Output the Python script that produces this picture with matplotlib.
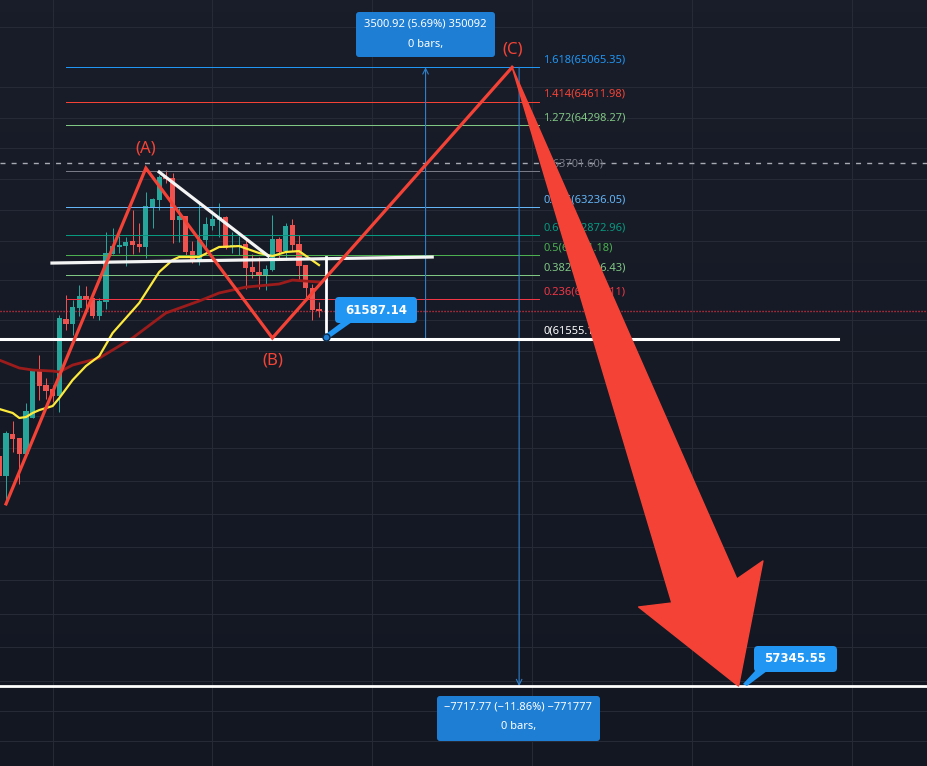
import matplotlib
matplotlib.use("Agg")
import matplotlib.pyplot as plt
import numpy as np
from matplotlib.colors import LinearSegmentedColormap
from matplotlib.patches import FancyBboxPatch, Polygon

BG = '#161a25'
GRID = '#262a36'
UP = '#26a69a'
DOWN = '#ef5350'
RED = '#f44336'
BLUE = '#2196f3'
MEASURE = '#1e7ed4'
plt.rcParams['font.family'] = ['Noto Sans', 'DejaVu Sans']

# candles: first bar index is -9
opens = [60103,59858,60373,60324,60128,60571,61167,60980,60930,60843,61806,61743,61945,
         62097,62072,61845,62022,62632,62722,62734,62798,62760,62722,63222,63326,63624,
         63610,63068,63119,62670,62530,62811,62990,63068,63106,62722,62722,62760,62466,
         62403,62364,62428,62824,62670,63004,62760,62491,62199,61933]
closes = [59858,60385,60312,60128,60658,61167,60968,60905,60843,61819,61743,61958,62097,
          62047,61845,62034,62645,62734,62747,62785,62747,62722,63248,63338,63624,63598,
          63068,63119,62658,62543,62811,63016,63080,63106,62709,62747,62747,62453,62403,
          62364,62440,62824,62658,62990,62747,62479,62199,61920,61908]
highs = [60260,60410,60534,60324,60756,61167,61354,61067,60980,61857,62110,62047,62237,
         62225,62072,62072,62914,62965,62863,62849,63196,63029,63429,63351,63649,63714,
         63675,63222,63119,62798,63312,63106,63196,63287,63119,62914,62863,62837,62632,
         62594,62491,63132,62849,63029,63080,62875,62491,62250,62022]
lows = [59800,59518,60152,59761,60091,60571,60794,60806,60769,60645,61668,61605,61845,
        61883,61819,61794,61933,62632,62645,62479,62632,62658,62580,62965,63196,63545,
        62773,62785,62619,62517,62491,62722,62939,62849,62695,62645,62619,62186,62326,
        62186,62173,62415,62555,62555,62670,62300,62085,61794,61831]

ma_fast_idx = [-9,-7,-6,-5,-4,-3,-1,0,2,4,6,8,12,15,17,18,21,24,27,30,32,34,36,39]
ma_fast = [60682,60633,60571,60583,60633,60669,60719,60818,61042,61217,61341,61630,62009,
           62403,62555,62594,62594,62722,62734,62645,62606,62658,62670,62491]
ma_slow_idx = [-9,-6,-4,-1,0,2,6,11,16,21,24,28,33,35,39]
ma_slow = [61291,61192,61167,61154,61142,61229,61316,61568,61883,62034,62136,62211,62250,62300,62275]

fib_ratios = ['1.618','1.414','1.272','1','0.786','0.618','0.5','0.382','0.236','0']
fib_prices = [65065.35,64611.98,64298.27,63701.60,63236.05,62872.96,62621.18,62366.43,62056.11,61555.15]
fib_colors = ['#2196f3','#f44336','#81c784','#787b86','#64b5f6','#089981','#4caf50','#81c784','#f23645','#ffffff']

wave_idx = [-8,13,32,68]
wave_price = [59518,63740,61568,65065.35]
wave_names = ['(A)','(B)','(C)']

grid_x = [-1,23,47,71,95,119]
grid_y = [56707,57050,57400,57800,58200,58600,59000,59400,59800,60200,60600,61000,61400,61800,
          62300,62800,63200,63600,64000,64400,64800,65600]

arrow_idx = [68,91.99,87,102,105.66,101.75]
arrow_price = [65065.35,58327,58279,57345.55,58829,58613]

fig = plt.figure(figsize=(9.27,7.66), dpi=100, facecolor=BG)

# faint vertical background gradient
bgax = fig.add_axes([0,0,1,1],zorder=-1)
bgax.axis('off')
cmap = LinearSegmentedColormap.from_list('bg',['#191d29','#131722'])
bgax.imshow(np.linspace(0,1,64).reshape(-1,1),aspect='auto',cmap=cmap)

ax = fig.add_axes([0,0,1,1], facecolor='none')
ax.set_yscale('log')
ax.set_xlim(-8.904,130.3)
ax.set_ylim(56418,65965)
ax.set_xticks(grid_x)
ax.set_yticks(grid_y)
ax.minorticks_off()
ax.tick_params(length=0,labelleft=False,labelbottom=False)
ax.grid(True,color=GRID,lw=0.72)
ax.set_axisbelow(True)
for s in ax.spines.values():
    s.set_visible(False)

# candles
for n,(o,c,h,l) in enumerate(zip(opens,closes,highs,lows)):
    i = n-9
    col = UP if c>=o else DOWN
    ax.vlines(i,l,h,color=col,lw=0.72,zorder=2,snap=True)
    ax.bar(i,abs(c-o),bottom=min(o,c),width=0.78,color=col,lw=0,zorder=2.1)

ax.plot(ma_slow_idx,ma_slow,color='#9c1c1c',lw=2,zorder=2.5,solid_joinstyle='round')
ax.plot(ma_fast_idx,ma_fast,color='#fdea3c',lw=1.6,zorder=2.6)

# session lines
ax.axhline(63810,color='#a8abb4',lw=1,dashes=(3.6,4.4),zorder=2)
ax.axhline(61912,color='#f23645',lw=1,dashes=(0.8,1.36),zorder=2)

# fib
for p,col,r in zip(fib_prices,fib_colors,fib_ratios):
    ax.plot([1,72],[p,p],color=col,lw=0.72,zorder=2.2,snap=True)
    ax.text(72.65,p*(1.00145 if r!='0' else 1.0016),f'{r}({p:.2f})',color=col,fontsize=8,
            va='center',ha='left',zorder=5)

# measure lines
for i,a,b in [(55,61555.15,65065.35),(69.05,65065.35,57345.55)]:
    ax.annotate('',xy=(i,b),xytext=(i,a),zorder=3,
                arrowprops=dict(arrowstyle='->',color='#2f7fc9',lw=0.8,shrinkA=0,shrinkB=0,mutation_scale=10))

# white drawings
ax.plot([-1.1,56],[62517,62594],color='#f4f4f4',lw=2.3,zorder=3)
ax.plot([15,31.4],[63689,62606],color='#f4f4f4',lw=2.3,zorder=3)
ax.plot([40,40],[62593,61555.15],color='white',lw=2,zorder=3)
ax.plot([-9,116.9],[61555.15,61555.15],color='white',lw=2.2,zorder=3)
ax.axhline(57345.55,color='white',lw=2,zorder=3)

# zigzag
ax.plot(wave_idx,wave_price,color=RED,lw=2.3,zorder=4,solid_joinstyle='miter')
ax.text(13,63990,wave_names[0],color=RED,fontsize=12,ha='center',va='center',zorder=5)
ax.text(32,61290,wave_names[1],color=RED,fontsize=12,ha='center',va='center',zorder=5)
ax.text(68,65300,wave_names[2],color=RED,fontsize=12,ha='center',va='center',zorder=5)

ax.add_patch(Polygon(list(zip(arrow_idx,arrow_price)),closed=True,fc=RED,ec=RED,lw=1,joinstyle='round',zorder=6))

# overlay in image pixels for callouts
ov = fig.add_axes([0,0,1,1],facecolor='none')
ov.set_xlim(0,927); ov.set_ylim(766,0); ov.axis('off')

def box(x0,y0,x1,y1,col,r=3):
    ov.add_patch(FancyBboxPatch((x0+r,y0+r),x1-x0-2*r,y1-y0-2*r,
                 boxstyle=f'round,pad={r},rounding_size={r}',fc=col,ec='none'))

box(356,12,495,57,MEASURE)
ov.text(425.5,24,'3500.92 (5.69%) 350092',color='white',fontsize=8,ha='center',va='center')
ov.text(425.5,44,'0 bars,',color='white',fontsize=8,ha='center',va='center')
box(437,696,600,741,MEASURE)
ov.text(518.5,707,'\u22127717.77 (\u221211.86%) \u2212771777',color='white',fontsize=8,ha='center',va='center')
ov.text(518.5,727,'0 bars,',color='white',fontsize=8,ha='center',va='center')

ov.add_patch(Polygon([(326,334),(342,322),(352,322),(328,339)],fc=BLUE,ec='none'))
box(335,297,417,323,BLUE,4)
ov.text(376,310,'61587.14',color='white',fontsize=8.5,fontweight='bold',family='DejaVu Sans',ha='center',va='center')
ov.plot([326],[336.5],'o',ms=5,mfc='#1e7ed4',mec='#0d2a4a',mew=1)

ov.add_patch(Polygon([(743,684),(755,671),(767,671),(747,686)],fc=BLUE,ec='none'))
box(754,646,837,672,BLUE,4)
ov.text(795.5,659,'57345.55',color='white',fontsize=8.5,fontweight='bold',family='DejaVu Sans',ha='center',va='center')

fig.savefig('out.png',dpi=100,facecolor=BG)
